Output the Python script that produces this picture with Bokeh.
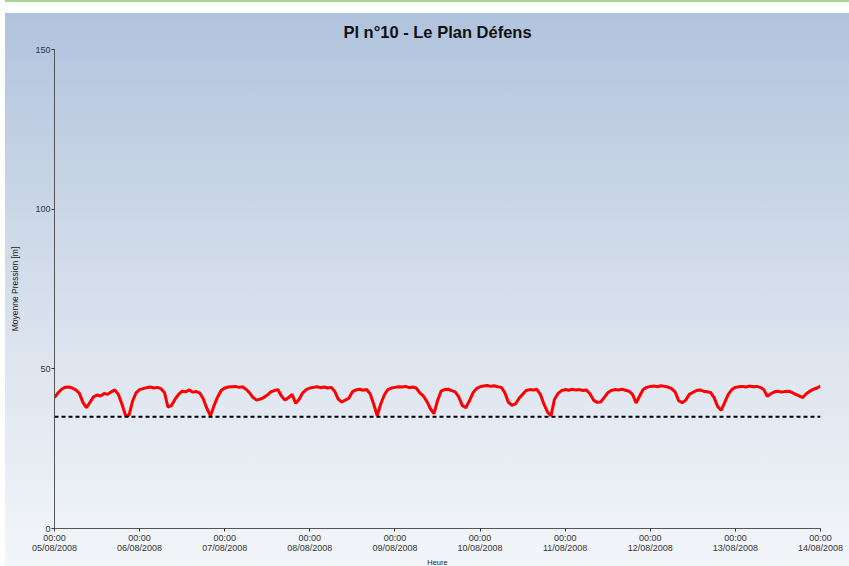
import pandas as pd
from bokeh.plotting import figure
from bokeh.models import Span, FixedTicker, DatetimeTickFormatter, InlineStyleSheet, Range1d, ColumnDataSource, Title
from bokeh.embed import file_html
from bokeh.resources import INLINE

title_text = "Pl n°10 - Le Plan Défens"
y_label = "Moyenne Pression [m]"
x_label = "Heure"
start = "2008-08-05 00:00"
tick_dates = ["2008-08-05", "2008-08-06", "2008-08-07", "2008-08-08", "2008-08-09",
              "2008-08-10", "2008-08-11", "2008-08-12", "2008-08-13", "2008-08-14"]
y_ticks = [0, 50, 100, 150]
threshold = 35

# hourly readings (m), 05/08 00:00 -> 14/08 00:00
day0 = [41.0, 42.5, 43.6, 44.2, 44.3, 44.0, 43.4, 42.4, 39.5, 37.8, 39.5, 41.2,
        41.8, 41.5, 42.3, 42.0, 42.8, 43.4, 42.0, 39.0, 35.5, 35.4, 39.8, 42.5]
day1 = [43.5, 43.8, 44.1, 44.3, 44.0, 44.2, 43.8, 42.6, 38.0, 38.5, 40.5, 42.0,
        43.0, 42.8, 43.4, 42.7, 42.9, 42.4, 40.5, 37.5, 35.3, 38.5, 41.2, 43.2]
day2 = [44.0, 44.3, 44.4, 44.5, 44.2, 44.4, 43.6, 42.5, 41.0, 40.2, 40.5, 41.0,
        41.8, 42.8, 43.2, 43.5, 41.5, 40.2, 41.0, 42.0, 39.2, 40.5, 42.5, 43.5]
day3 = [44.0, 44.2, 44.4, 44.1, 44.3, 44.0, 44.2, 43.0, 40.5, 39.6, 40.2, 40.8,
        42.8, 43.4, 43.6, 43.3, 43.5, 42.2, 39.0, 35.3, 39.0, 41.8, 43.5, 44.0]
day4 = [44.2, 44.4, 44.3, 44.5, 44.1, 44.3, 44.0, 42.5, 41.5, 39.8, 37.5, 36.0,
        40.0, 43.0, 43.5, 43.6, 43.2, 42.8, 41.2, 38.5, 37.8, 40.0, 42.5, 43.8]
day5 = [44.4, 44.6, 44.8, 44.5, 44.7, 44.4, 44.2, 42.5, 39.5, 38.6, 39.0, 40.8,
        42.0, 43.2, 43.5, 43.4, 43.6, 42.0, 39.0, 36.5, 35.3, 40.5, 42.3, 43.2]
day6 = [43.5, 43.3, 43.6, 43.4, 43.5, 43.2, 43.4, 42.2, 40.2, 39.5, 39.6, 41.0,
        42.5, 43.2, 43.5, 43.4, 43.6, 43.3, 43.0, 42.0, 39.3, 41.5, 43.5, 44.2]
day7 = [44.5, 44.6, 44.4, 44.7, 44.5, 44.3, 43.8, 42.8, 40.0, 39.4, 40.2, 42.0,
        42.6, 43.2, 43.4, 43.0, 42.8, 42.6, 41.0, 38.2, 37.0, 39.5, 42.0, 43.5]
day8 = [44.2, 44.4, 44.5, 44.3, 44.6, 44.4, 44.5, 44.2, 43.5, 41.4, 42.2, 42.8,
        43.0, 42.7, 42.9, 43.0, 42.6, 42.0, 41.5, 41.0, 42.2, 43.0, 43.6, 44.0]
day9 = [44.6]

pressure = day0 + day1 + day2 + day3 + day4 + day5 + day6 + day7 + day8 + day9
times = pd.date_range(start, periods=len(pressure), freq="h")
source = ColumnDataSource(data=dict(t=times, v=pressure))

tick_ms = [pd.Timestamp(d).value / 1e6 for d in tick_dates]
t0 = pd.Timestamp(tick_dates[0])
t1 = pd.Timestamp(tick_dates[-1])

p = figure(width=849, height=566, output_backend="svg", toolbar_location=None,
           x_axis_type="datetime",
           x_range=Range1d(t0, t1),
           y_range=Range1d(y_ticks[0], y_ticks[-1]),
           min_border_left=54, min_border_right=29, min_border_top=49, min_border_bottom=37)

p.stylesheets = [InlineStyleSheet(css=(
    ":host { background:"
    " linear-gradient(90deg, #ffffff 0px, #ffffff 5px, transparent 5px),"
    " linear-gradient(180deg, #a6d78f 0px, #a6d78f 2px, #ffffff 2px, #ffffff 13px,"
    " #b0c3dd 13px, #c6d3e5 30%, #dbe3ee 60%, #f3f6f9 100%); }"))]
p.background_fill_alpha = 0
p.border_fill_alpha = 0
p.outline_line_color = None
p.xgrid.visible = False
p.ygrid.visible = False

p.title.text = title_text
p.title.align = "center"
p.title.text_font = "Liberation Sans"
p.title.text_font_size = "16.5px"
p.title.text_font_style = "bold"
p.title.text_color = "#111111"
p.title.standoff = 18

fmt = "%H:%M\n%d/%m/%Y"
p.xaxis.formatter = DatetimeTickFormatter(
    microseconds=fmt, milliseconds=fmt, seconds=fmt, minsec=fmt, minutes=fmt,
    hourmin=fmt, hours=fmt, days=fmt, months=fmt, years=fmt, context=None)
p.xaxis.ticker = FixedTicker(ticks=tick_ms)
p.yaxis.ticker = FixedTicker(ticks=y_ticks)

for ax in (p.xaxis, p.yaxis):
    ax.axis_line_color = "#555555"
    ax.axis_line_width = 1
    ax.major_tick_line_color = "#333333"
    ax.major_tick_out = 3
    ax.major_tick_in = 0
    ax.minor_tick_line_color = None
    ax.major_label_text_font = "Liberation Sans"
    ax.major_label_text_font_size = "9px"
    ax.major_label_text_color = "#333333"
    ax.major_label_standoff = 1
    ax.axis_label_text_font = "Liberation Sans"
    ax.axis_label_text_font_size = "8.5px"
    ax.axis_label_text_font_style = "normal"
    ax.axis_label_text_color = "#222222"

p.xaxis.major_label_text_line_height = 1.0
p.yaxis.axis_label = y_label
p.yaxis.axis_label_standoff = 12

p.add_layout(Title(text=x_label, align="center", text_font="Liberation Sans",
                   text_font_size="7.5px", text_font_style="normal",
                   text_color="#222222", standoff=0), "below")

p.add_layout(Span(location=threshold, dimension="width", line_color="#000000",
                  line_width=2, line_dash="4 3"))
p.line("t", "v", source=source, line_color="#ff0000", line_width=3)

open("out.html", "w").write(file_html(p, INLINE))
